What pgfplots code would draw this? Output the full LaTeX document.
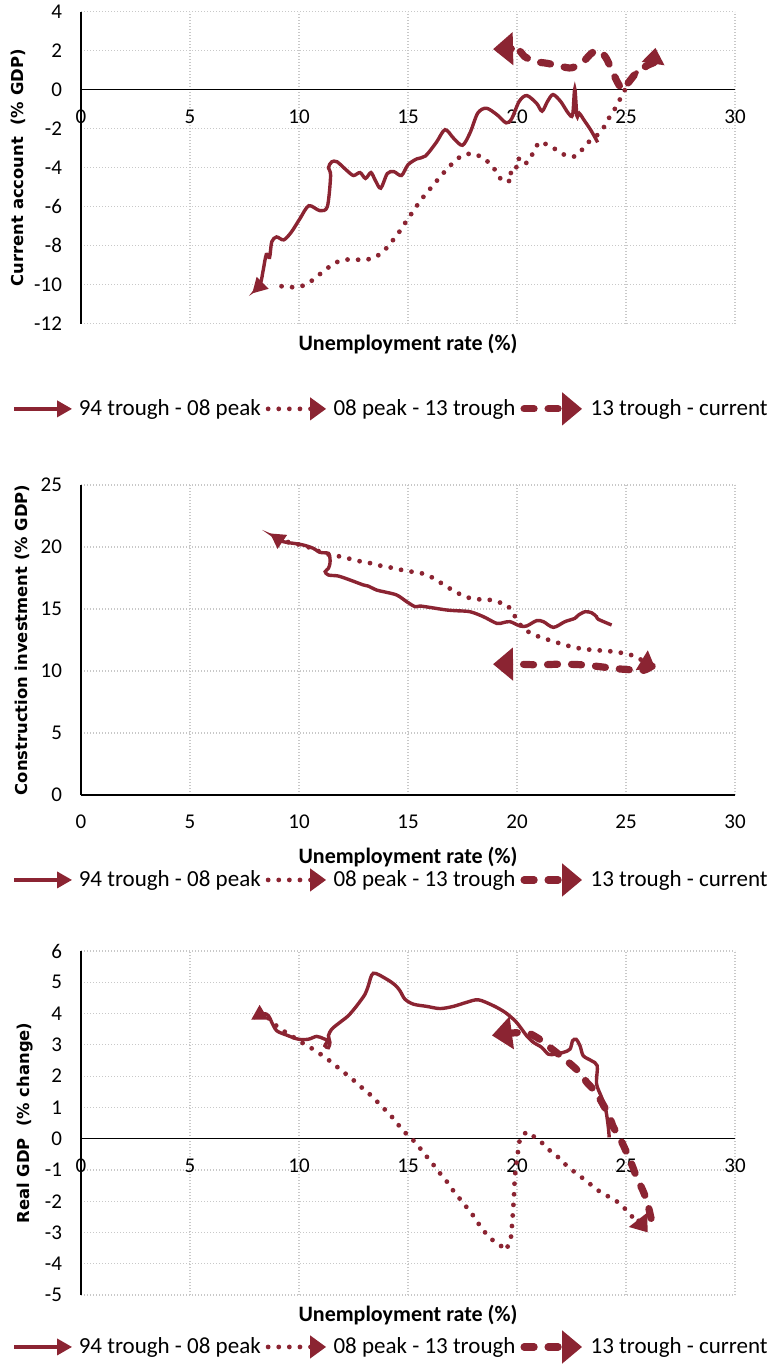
\documentclass[border=0pt]{standalone}
\usepackage{fontspec}
\setmainfont{Carlito}
\newfontfamily\labfont{DejaVu Sans}
\usepackage{pgfplots}
\pgfplotsset{compat=1.18}
\usetikzlibrary{arrows.meta}

\definecolor{wine}{RGB}{139,36,50}
\definecolor{gridgray}{RGB}{200,200,200}

\pgfplotsset{
  panel/.style={
    scale only axis,
    width=327pt,
    xmin=0, xmax=30,
    xtick={0,5,...,30},
    axis x line=middle,
    axis y line=left,
    axis line style={-, black, line width=0.75pt},
    major tick length=0pt,
    grid=major,
    major grid style={gridgray, line width=0.6pt, dash pattern=on 0.6pt off 0.9pt},
    hide obscured x ticks=false,
    hide obscured y ticks=false,
    tick label style={font=\fontsize{10.5}{12}\selectfont},
    /pgf/number format/assume math mode=true,
    xticklabel style={anchor=north, yshift=-6.5pt},
    yticklabel style={anchor=east, xshift=-6pt},
    xlabel={Unemployment rate (\%)},
    xlabel style={font=\bfseries\fontsize{11}{12}\selectfont, anchor=center},
    ylabel style={font=\labfont\bfseries\fontsize{8.2}{9}\selectfont, anchor=center},
    legend columns=3,
    legend cell align=left,
    legend style={draw=none, fill=none, anchor=west, inner sep=0pt,
      font=\fontsize{11.5}{13}\selectfont,
      nodes={inner xsep=2.5pt, inner ysep=1pt}},
    legend image code/.code={\draw[##1] (0pt,0pt) -- (29pt,0pt);},
    clip=false,
  },
  solidser/.style={wine, line width=1.7pt, smooth, tension=0.5,
    -{Triangle[length=7.5pt,width=8pt]}},
  dotser/.style={wine, line width=2.4pt, line cap=round,
    dash pattern=on 0pt off 5.3pt, -{Triangle[length=8pt,width=11pt]}},
  dashser/.style={wine, line width=3.6pt, line cap=round,
    dash pattern=on 5pt off 7pt, smooth, tension=0.5,
    -{Triangle[length=10pt,width=16pt]}},
}

\begin{document}
\begin{tikzpicture}
\useasboundingbox (0pt,0pt) rectangle (384pt,-682pt);

% --- current account
\begin{axis}[panel, at={(40.5pt,-161.85pt)}, anchor=south west, height=156pt,
  ymin=-12, ymax=4, ytick={-12,-10,...,4},
  ylabel={Current account\ \ (\% GDP)},
  ylabel style={at={(axis description cs:-0.096,0.5)}},
  xlabel style={at={(axis description cs:0.5,-0.064)}},
  legend style={at={(axis description cs:-0.1055,-0.273)}}]
\addplot[solidser] coordinates {
 (23.7,-2.7) (23.4,-2.1) (23.1,-1.6) (22.85,-1.2) (22.75,-1.35) (22.65,0.05)
 (22.55,-1.3) (22.35,-1.2) (22.0,-0.6) (21.65,-0.25) (21.4,-0.6) (21.15,-1.1)
 (20.9,-0.7) (20.45,-0.3) (20.1,-0.6) (19.75,-1.5) (19.5,-1.7) (19.1,-1.3)
 (18.6,-0.95) (18.2,-1.2) (17.85,-2.2) (17.5,-2.85) (17.1,-2.5) (16.7,-2.05)
 (16.3,-2.7) (15.8,-3.4) (15.4,-3.55) (15.0,-3.85) (14.7,-4.4) (14.35,-4.2)
 (14.05,-4.3) (13.75,-5.05) (13.5,-4.65) (13.3,-4.25) (13.05,-4.55) (12.8,-4.25)
 (12.5,-4.4) (12.2,-4.15) (11.75,-3.7) (11.5,-3.7) (11.35,-4.0) (11.45,-4.4)
 (11.3,-6.0) (10.95,-6.2) (10.45,-5.95) (10.05,-6.6) (9.65,-7.3) (9.3,-7.7)
 (8.97,-7.55) (8.75,-7.8) (8.65,-8.6) (8.5,-8.45) (8.35,-9.3) (8.22,-9.95)
 (7.85,-10.45)};
\addplot[dotser] coordinates {
 (9.2,-10.08) (9.66,-10.13) (10.12,-10.08) (10.5,-9.87) (10.89,-9.52)
 (11.27,-9.18) (11.65,-8.87) (12.11,-8.71) (12.57,-8.71) (13.03,-8.74)
 (13.49,-8.6) (13.87,-8.31) (14.17,-7.91) (14.48,-7.48) (14.75,-7.05)
 (15.01,-6.58) (15.28,-6.18) (15.55,-5.7) (15.84,-5.32) (16.15,-4.9)
 (16.45,-4.5) (16.76,-4.1) (17.09,-3.72) (17.45,-3.38) (17.9,-3.26)
 (18.36,-3.43) (18.75,-3.77) (19.05,-4.19) (19.28,-4.64) (19.56,-4.74)
 (19.82,-4.54) (19.66,-4.12) (19.97,-3.98) (20.05,-3.5) (20.31,-3.84)
 (20.58,-3.64) (20.76,-3.15) (21.01,-2.68) (21.42,-2.82) (21.8,-3.08)
 (22.23,-3.38) (22.65,-3.43) (23.03,-3.03) (23.33,-2.63) (23.67,-2.34)
 (24.0,-1.9) (24.25,-1.39) (24.48,-1.0) (24.71,-0.52) (24.94,-0.03)
 (25.14,0.43) (25.47,0.87) (25.93,1.13) (26.25,1.4) (26.35,2.15)};
\addplot[dashser] coordinates {
 (26.3,1.4) (25.9,1.2) (25.5,0.9) (25.1,0.35) (24.85,0.0) (24.6,0.4)
 (24.35,1.0) (24.1,1.6) (23.85,1.95) (23.6,2.0) (23.35,1.8) (23.0,1.4)
 (22.5,1.12) (22.0,1.2) (21.4,1.35) (20.8,1.45) (20.35,1.7) (20.0,2.05)
 (18.9,2.08)};
\legend{94 trough - 08 peak, 08 peak - 13 trough, 13 trough - current}
\end{axis}

% --- construction investment
\begin{axis}[panel, at={(40.5pt,-397.5pt)}, anchor=south west, height=155pt,
  ymin=0, ymax=25, ytick={0,5,...,25},
  ylabel={Construction investment (\% GDP)},
  ylabel style={at={(axis description cs:-0.09,0.5)}},
  xlabel style={at={(axis description cs:0.5,-0.2)}},
  legend style={at={(axis description cs:-0.1055,-0.274)}}]
\addplot[solidser] coordinates {
 (24.34,13.71) (23.73,14.17) (23.65,14.38) (23.42,14.7) (23.12,14.78)
 (22.81,14.5) (22.66,14.25) (22.2,13.98) (21.67,13.52) (21.21,13.98)
 (20.9,14.06) (20.44,13.63) (20.14,13.63) (19.68,13.98) (19.37,13.9)
 (19.07,13.84) (18.46,14.38) (17.85,14.78) (17.23,14.86) (16.77,14.92)
 (16.0,15.13) (15.55,15.24) (15.32,15.19) (14.94,15.59) (14.48,16.13)
 (13.87,16.4) (13.56,16.53) (13.17,16.85) (12.95,16.94) (12.34,17.34)
 (11.8,17.66) (11.35,17.74) (11.2,18.01) (11.35,18.28) (11.42,18.68)
 (11.42,19.09) (11.35,19.49) (10.96,19.57) (10.66,19.89) (10.2,20.16)
 (9.74,20.3) (9.28,20.43) (8.67,21.1)};
\addplot[dotser] coordinates {
 (9.5,20.4) (10.0,20.2) (10.5,19.95) (11.0,19.6) (11.42,19.35) (11.96,19.22)
 (12.41,19.01) (12.87,18.82) (13.33,18.68) (13.79,18.47) (14.25,18.33)
 (14.71,18.15) (15.17,18.01) (15.63,17.88) (16.09,17.56) (16.47,17.15)
 (16.9,16.67) (17.31,16.26) (17.69,15.94) (18.2,15.78) (18.64,15.78)
 (19.1,15.59) (19.56,15.32) (19.83,14.65) (20.06,13.9) (20.37,13.31)
 (20.79,12.9) (21.24,12.63) (21.69,12.37) (22.12,12.15) (22.58,11.91)
 (23.04,11.78) (23.5,11.69) (23.99,11.64) (24.45,11.56) (24.95,11.42)
 (25.41,11.21) (26.35,10.2)};
\addplot[dashser] coordinates {
 (26.2,10.4) (25.8,10.05) (25.2,10.1) (24.5,10.2) (23.8,10.35) (23.0,10.5)
 (22.0,10.55) (21.0,10.5) (20.0,10.55) (18.9,10.55)};
\legend{94 trough - 08 peak, 08 peak - 13 trough, 13 trough - current}
\end{axis}

% --- real GDP
\begin{axis}[panel, at={(40.5pt,-647.5pt)}, anchor=south west, height=172pt,
  ymin=-5, ymax=6, ytick={-5,-4,...,6},
  ylabel={Real GDP\ \ (\% change)},
  ylabel style={at={(axis description cs:-0.086,0.5)}},
  xlabel style={at={(axis description cs:0.5,-0.058)}},
  legend style={at={(axis description cs:-0.1055,-0.151)}}]
\addplot[solidser] coordinates {
 (24.23,0.04) (24.19,0.36) (24.08,0.89) (23.88,1.32) (23.65,1.75) (23.68,2.33)
 (23.42,2.49) (23.04,2.65) (22.89,2.97) (22.71,3.18) (22.55,3.13) (22.43,2.86)
 (22.13,2.76) (21.74,2.7) (21.44,2.7) (21.13,2.92) (20.75,3.08) (20.44,3.29)
 (20.22,3.5) (19.91,3.77) (19.45,4.04) (18.92,4.25) (18.23,4.44) (17.69,4.36)
 (17.08,4.23) (16.47,4.16) (15.86,4.23) (15.25,4.3) (14.86,4.46) (14.63,4.73)
 (14.41,4.91) (14.02,5.1) (13.41,5.29) (13.18,4.89) (13.03,4.62) (12.65,4.25)
 (12.26,3.93) (11.88,3.72) (11.5,3.5) (11.35,3.29) (11.42,3.08) (11.35,2.91)
 (11.19,2.97) (11.3,3.13) (11.12,3.2) (10.81,3.27) (10.43,3.18) (9.97,3.18)
 (9.44,3.31) (8.98,3.45) (8.75,3.72) (8.6,3.93) (8.35,4.0) (7.8,3.8)};
\addplot[dotser] coordinates {
 (8.6,3.85) (9.13,3.5) (9.56,3.34) (9.97,3.13) (10.35,2.99) (10.78,2.8)
 (11.16,2.62) (11.54,2.42) (11.91,2.2) (12.26,2.01) (12.62,1.8) (12.98,1.57)
 (13.33,1.37) (13.7,1.1) (14.2,0.75) (14.63,0.38) (14.94,0.14) (15.28,-0.08)
 (15.58,-0.33) (15.89,-0.6) (16.16,-0.83) (16.47,-1.11) (16.77,-1.36)
 (17.05,-1.64) (17.35,-1.9) (17.93,-2.4) (18.44,-2.93) (18.89,-3.25)
 (19.23,-3.41) (19.5,-3.57) (19.72,-3.19) (19.79,-2.61) (19.86,-1.86)
 (19.9,-1.22) (20.01,-0.59) (20.13,0) (20.44,0.22) (20.83,0.04) (21.21,-0.17)
 (21.55,-0.41) (21.9,-0.6) (22.23,-0.83) (22.59,-1.04) (22.97,-1.24)
 (23.35,-1.45) (23.73,-1.66) (24.11,-1.82) (24.5,-1.96) (24.9,-2.2)
 (25.29,-2.5) (25.62,-2.66) (26.0,-3.0)};
\addplot[dashser] coordinates {
 (26.15,-2.55) (26.0,-2.1) (25.8,-1.7) (25.5,-1.25) (25.25,-0.8) (25.0,-0.4)
 (24.8,-0.1) (24.4,0.4) (24.25,0.7) (23.9,1.15) (23.6,1.5) (23.2,1.8)
 (22.9,2.1) (22.35,2.45) (21.8,2.76) (21.35,3.0) (20.9,3.24) (20.3,3.4)
 (18.85,3.3)};
\legend{94 trough - 08 peak, 08 peak - 13 trough, 13 trough - current}
\end{axis}
\end{tikzpicture}
\end{document}
